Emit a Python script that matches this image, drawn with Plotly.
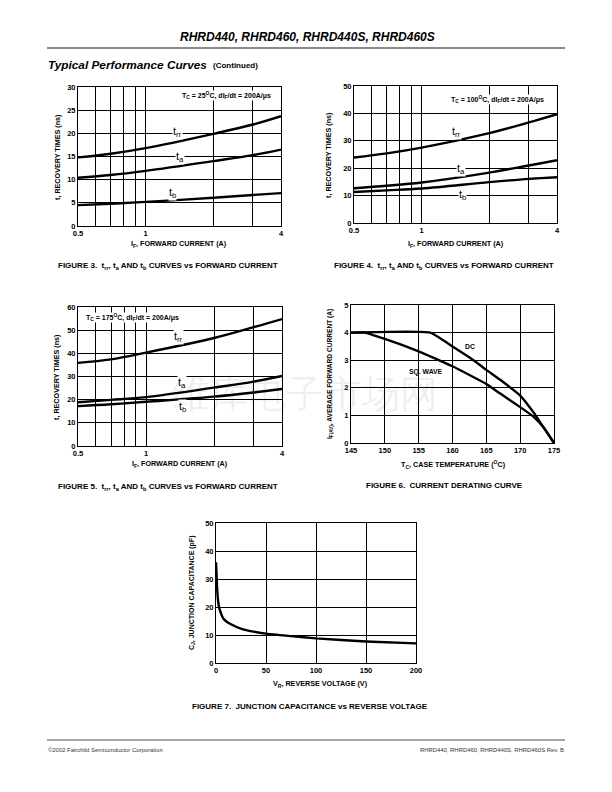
import math
import plotly.graph_objects as go

W, H = 612, 792
OFF = 8  # page body margin of the html page
FONT = "Liberation Sans"

# ---------------- data ----------------
i_f = [0.5, 0.7, 1, 2, 3, 4]
ticks_log = [0.5, 0.6, 0.7, 0.8, 0.9, 1, 2, 3, 4]
ticks_log_text = ["0.5", "", "", "", "", "1", "", "", "4"]

# Figure 3: Tc = 25C
f3_trr = [14.8, 15.6, 16.8, 19.9, 21.9, 23.7]
f3_ta = [10.4, 11.0, 11.9, 14.0, 15.3, 16.5]
f3_tb = [4.5, 4.8, 5.2, 6.1, 6.7, 7.1]

# Figure 4: Tc = 100C
f4_trr = [23.9, 25.4, 27.5, 32.8, 36.7, 39.7]
f4_ta = [12.7, 13.6, 14.8, 18.4, 21.0, 22.9]
f4_tb = [11.3, 11.9, 12.6, 14.9, 16.1, 16.7]

# Figure 5: Tc = 175C
f5_trr = [35.9, 37.4, 40.3, 46.6, 51.3, 54.8]
f5_ta = [18.9, 19.9, 21.1, 25.2, 27.8, 30.2]
f5_tb = [17.2, 18.0, 19.1, 21.3, 23.1, 24.6]

# Figure 6: current derating
dc_t = [145, 156.7, 160, 163, 165, 167, 170, 172, 173.5, 175]
dc_i = [4, 4, 3.5, 3.02, 2.65, 2.3, 1.72, 1.1, 0.55, 0]
sq_t = [145, 147, 150, 155, 158, 160, 165, 167, 170, 172, 173.5, 175]
sq_i = [4, 4, 3.77, 3.32, 3.0, 2.78, 2.14, 1.8, 1.3, 0.95, 0.55, 0]

# Figure 7: junction capacitance
vr = [0, 0.5, 1, 2, 3, 4, 6, 8, 14, 27, 50, 75, 100, 150, 200]
cj = [36, 32, 27.5, 22.5, 20, 18.8, 16.8, 15.6, 14, 12, 10.5, 9.6, 8.8, 7.7, 7.0]

# ---------------- helpers ----------------
def px(x):
    return (x - OFF) / W

def py(y):
    return 1 - (y - OFF) / H

fig = go.Figure()
annotations = []
shapes = []

def ann(x, y, text, size=6, bold=True, xanchor="center", yanchor="middle",
        textangle=0, color="black", bg=None, italic=False):
    t = text
    if bold:
        t = "<b>" + t + "</b>"
    if italic:
        t = "<i>" + t + "</i>"
    d = dict(x=px(x), y=py(y), xref="paper", yref="paper", text=t,
             showarrow=False, xanchor=xanchor, yanchor=yanchor,
             textangle=textangle, font=dict(family=FONT, size=size, color=color),
             borderpad=0)
    if bg:
        d["bgcolor"] = bg
    annotations.append(d)

def axis_common(dom):
    return dict(domain=dom, showline=True, mirror=True, linecolor="black",
                linewidth=1, showgrid=True, gridcolor="black", gridwidth=1,
                zeroline=False, ticks="", ticklen=0, automargin=False,
                tickfont=dict(family=FONT, size=7.5, color="black", weight="bold"),
                fixedrange=True)

layout_axes = {}

def add_panel(n, xdom_px, ydom_px, xcfg, ycfg):
    xd = [px(xdom_px[0]), px(xdom_px[1])]
    yd = [py(ydom_px[1]), py(ydom_px[0])]
    xa = axis_common(xd)
    xa.update(xcfg)
    xa["anchor"] = "y" if n == 1 else "y%d" % n
    ya = axis_common(yd)
    ya.update(ycfg)
    ya["anchor"] = "x" if n == 1 else "x%d" % n
    layout_axes["xaxis" if n == 1 else "xaxis%d" % n] = xa
    layout_axes["yaxis" if n == 1 else "yaxis%d" % n] = ya

def curve(n, x, y, smoothing=1.0):
    fig.add_trace(go.Scatter(
        x=x, y=y, mode="lines",
        line=dict(color="black", width=2.4, shape="spline", smoothing=smoothing),
        xaxis="x" if n == 1 else "x%d" % n,
        yaxis="y" if n == 1 else "y%d" % n,
        showlegend=False, hoverinfo="skip"))

logx = dict(type="log", range=[math.log10(0.5), math.log10(4)],
            tickvals=ticks_log, ticktext=ticks_log_text)

# Figure 3
add_panel(1, (78, 281), (87, 226), logx,
          dict(range=[0, 30], tickvals=[0, 5, 10, 15, 20, 25, 30]))
for s in (f3_trr, f3_ta, f3_tb):
    curve(1, i_f, s)
# Figure 4
add_panel(2, (354, 557), (86, 223), logx,
          dict(range=[0, 50], tickvals=[0, 10, 20, 30, 40, 50]))
for s in (f4_trr, f4_ta, f4_tb):
    curve(2, i_f, s)
# Figure 5
add_panel(3, (78, 282), (307, 446), logx,
          dict(range=[0, 60], tickvals=[0, 10, 20, 30, 40, 50, 60]))
for s in (f5_trr, f5_ta, f5_tb):
    curve(3, i_f, s)
# Figure 6
add_panel(4, (351, 554), (305, 443),
          dict(range=[145, 175], tickvals=[145, 150, 155, 160, 165, 170, 175]),
          dict(range=[0, 5], tickvals=[0, 1, 2, 3, 4, 5]))
curve(4, dc_t, dc_i, smoothing=0.4)
curve(4, sq_t, sq_i, smoothing=0.4)
# Figure 7
add_panel(5, (216, 416), (523, 663),
          dict(range=[0, 200], tickvals=[0, 50, 100, 150, 200]),
          dict(range=[0, 50], tickvals=[0, 10, 20, 30, 40, 50]))
curve(5, vr, cj, smoothing=0.5)

# ---------------- texts ----------------
# header
ann(307, 37, "RHRD440, RHRD460, RHRD440S, RHRD460S", size=12, italic=True)
shapes.append(dict(type="line", xref="paper", yref="paper", x0=px(47), x1=px(565),
                   y0=py(48), y1=py(48), line=dict(color="#8a8a8a", width=2)))
ann(47, 65, "Typical Performance Curves", size=11.8, italic=True, xanchor="left")
ann(212, 66, "(Continued)", size=8, xanchor="left")

# footer
shapes.append(dict(type="line", xref="paper", yref="paper", x0=px(47), x1=px(565),
                   y0=py(740), y1=py(740), line=dict(color="#8a8a8a", width=1.5)))
ann(47, 750, "©2002 Fairchild Semiconductor Corporation", size=5.9, bold=False,
    xanchor="left", color="#333333")
ann(565, 750, "RHRD440, RHRD460, RHRD440S, RHRD460S Rev. B", size=5.9, bold=False,
    xanchor="right", color="#333333")

# panel titles / labels
ann(226, 95, "T<sub>C</sub> = 25<sup>O</sup>C, dI<sub>F</sub>/dt = 200A/μs", size=7, bg="white")
ann(497, 99, "T<sub>C</sub> = 100<sup>O</sup>C, dI<sub>F</sub>/dt = 200A/μs", size=7, bg="white")
ann(85, 317, "T<sub>C</sub> = 175<sup>O</sup>C, dI<sub>F</sub>/dt = 200A/μs", size=7,
    bg="white", xanchor="left")

for (x, y, t) in [(177, 132, "t<sub>rr</sub>"), (180, 157, "t<sub>a</sub>"), (172, 193, "t<sub>b</sub>"),
                  (457, 132, "t<sub>rr</sub>"), (461, 169, "t<sub>a</sub>"), (462, 195, "t<sub>b</sub>"),
                  (178, 337, "t<sub>rr</sub>"), (182, 383, "t<sub>a</sub>"), (182, 407, "t<sub>b</sub>")]:
    ann(x, y, t, size=11, bold=False, bg="white")

ann(470, 347, "DC", size=6.8)
ann(426, 372, "SQ. WAVE", size=6.8)

# axis titles
ann(179, 244, "I<sub>F</sub>, FORWARD CURRENT (A)", size=7.2)
ann(456, 244, "I<sub>F</sub>, FORWARD CURRENT (A)", size=7.2)
ann(180, 464, "I<sub>F</sub>, FORWARD CURRENT (A)", size=7.2)
ann(453, 464, "T<sub>C</sub>, CASE TEMPERATURE (<sup>O</sup>C)", size=7.2)
ann(320, 684, "V<sub>R</sub>, REVERSE VOLTAGE (V)", size=7.2)

ann(57, 157, "t, RECOVERY TIMES (ns)", size=7.2, textangle=-90)
ann(329, 155, "t, RECOVERY TIMES (ns)", size=7.2, textangle=-90)
ann(57, 377, "t, RECOVERY TIMES (ns)", size=7.2, textangle=-90)
ann(330, 374, "I<sub>F(AV)</sub>, AVERAGE FORWARD CURRENT (A)", size=6.6, textangle=-90)
ann(192, 593, "C<sub>J</sub>, JUNCTION CAPACITANCE (pF)", size=7, textangle=-90)

# captions
ann(168, 266, "FIGURE 3.  t<sub>rr</sub>, t<sub>a</sub> AND t<sub>b</sub> CURVES vs FORWARD CURRENT", size=8)
ann(444, 266, "FIGURE 4.  t<sub>rr</sub>, t<sub>a</sub> AND t<sub>b</sub> CURVES vs FORWARD CURRENT", size=8)
ann(168, 487, "FIGURE 5.  t<sub>rr</sub>, t<sub>a</sub> AND t<sub>b</sub> CURVES vs FORWARD CURRENT", size=8)
ann(444, 486, "FIGURE 6.  CURRENT DERATING CURVE", size=8)
ann(310, 706, "FIGURE 7.  JUNCTION CAPACITANCE vs REVERSE VOLTAGE", size=8)

# watermark
ann(305, 394, "维库电子市场网", size=38, bold=False, color="rgba(0,0,0,0.08)")

fig.update_layout(template="none", width=W, height=H,
                  margin=dict(l=0, r=0, t=0, b=0, pad=0, autoexpand=False),
                  paper_bgcolor="white", plot_bgcolor="white",
                  annotations=annotations, shapes=shapes, showlegend=False,
                  font=dict(family=FONT, color="black"), **layout_axes)

fig.write_html("out.html")
